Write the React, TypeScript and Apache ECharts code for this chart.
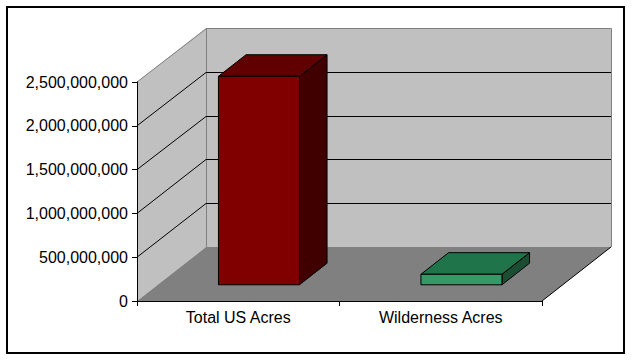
import React, { useEffect, useRef } from "react";
import * as echarts from "echarts";

const categories = ["Total US Acres", "Wilderness Acres"];
const acres = [2380000000, 120000000];
const yTickValues = [0, 500000000, 1000000000, 1500000000, 2000000000, 2500000000];
const yMin = 0;
const yMax = 2500000000;
const yInterval = 500000000;

const faceColors = [
  { front: "#800000", top: "#600000", side: "#400000" },
  { front: "#339966", top: "#20744a", side: "#1b4d33" },
];

const DX = 69;
const DY = -54;
const FRONT = 0.3;
const BACK = 0.7;
const BAR_START = 0.3;
const BAR_WIDTH = 0.4;
const WALL = "#c0c0c0";
const FLOOR = "#808080";
const EDGE = "#808080";
const FONT = "'Liberation Sans', Arial, sans-serif";

const crisp = (v: number) => Math.round(v) + 0.5;

export default function App() {
  const ref = useRef<HTMLDivElement>(null);

  useEffect(() => {
    if (!ref.current) return;
    const chart = echarts.init(ref.current, null, { renderer: "svg" });

    const renderFrame = (params: any, api: any) => {
      const cs = params.coordSys;
      const x0 = cs.x;
      const x1 = cs.x + cs.width;
      const yt = cs.y;
      const yb = cs.y + cs.height;
      const children: any[] = [
        {
          type: "rect",
          shape: { x: x0 + DX, y: yt + DY, width: cs.width, height: cs.height },
          style: { fill: WALL },
        },
        {
          type: "polygon",
          shape: { points: [[x0, yt], [x0 + DX, yt + DY], [x0 + DX, yb + DY], [x0, yb]] },
          style: { fill: WALL },
        },
        {
          type: "polygon",
          shape: { points: [[x0, yb], [x0 + DX, yb + DY], [x1 + DX, yb + DY], [x1, yb]] },
          style: { fill: FLOOR },
        },
        {
          type: "polyline",
          shape: {
            points: [
              [x0, yt],
              [crisp(x0 + DX), crisp(yt + DY)],
              [crisp(x1 + DX), crisp(yt + DY)],
              [crisp(x1 + DX), yb + DY],
            ],
          },
          style: { stroke: EDGE, lineWidth: 1, fill: "none" },
        },
        {
          type: "line",
          shape: { x1: crisp(x0 + DX), y1: yt + DY, x2: crisp(x0 + DX), y2: yb + DY },
          style: { stroke: EDGE, lineWidth: 1 },
        },
        {
          type: "line",
          shape: { x1: x1, y1: yb, x2: x1 + DX, y2: yb + DY },
          style: { stroke: "#000", lineWidth: 1 },
        },
      ];
      yTickValues.forEach((v) => {
        if (v <= yMin || v >= yMax) return;
        const y = api.coord([0, v])[1];
        const yBack = crisp(y + DY);
        children.push({
          type: "polyline",
          shape: { points: [[x0, y], [x0 + DX, yBack], [x1 + DX, yBack]] },
          style: { stroke: "#000", lineWidth: 1, fill: "none" },
        });
      });
      return { type: "group", children };
    };

    const renderBar = (params: any, api: any) => {
      const ci = api.value(0);
      const v = api.value(1);
      const base = api.coord([ci, 0]);
      const top = api.coord([ci, v]);
      const bw = api.size([1, 0])[0];
      const left = base[0] - bw / 2 + BAR_START * bw;
      const right = left + BAR_WIDTH * bw;
      const fx = FRONT * DX;
      const fy = FRONT * DY;
      const bx = BACK * DX;
      const by = BACK * DY;
      const c = faceColors[params.dataIndex % faceColors.length];
      const ty = top[1];
      const byy = base[1];
      const stroke = { stroke: "#000", lineWidth: 1 };
      return {
        type: "group",
        children: [
          {
            type: "polygon",
            shape: {
              points: [
                [right + fx, ty + fy],
                [right + bx, ty + by],
                [right + bx, byy + by],
                [right + fx, byy + fy],
              ],
            },
            style: { fill: c.side, ...stroke },
          },
          {
            type: "polygon",
            shape: {
              points: [
                [left + fx, ty + fy],
                [left + bx, ty + by],
                [right + bx, ty + by],
                [right + fx, ty + fy],
              ],
            },
            style: { fill: c.top, ...stroke },
          },
          {
            type: "rect",
            shape: { x: left + fx, y: ty + fy, width: right - left, height: byy - ty },
            style: { fill: c.front, ...stroke },
          },
        ],
      };
    };

    chart.setOption({
      animation: false,
      backgroundColor: "#fff",
      grid: { left: 137, top: 82, width: 405, height: 219, containLabel: false },
      xAxis: {
        type: "category",
        data: categories,
        boundaryGap: true,
        z: 10,
        axisLine: { show: true, lineStyle: { color: "#000", width: 1 } },
        axisTick: { show: true, interval: 0, alignWithLabel: false, length: 5, lineStyle: { color: "#000" } },
        axisLabel: { interval: 0, color: "#000", fontSize: 16, fontFamily: FONT, margin: 8 },
        splitLine: { show: false },
      },
      yAxis: {
        type: "value",
        min: yMin,
        max: yMax,
        interval: yInterval,
        z: 10,
        axisLine: { show: true, lineStyle: { color: "#000", width: 1 } },
        axisTick: { show: true, length: 5, lineStyle: { color: "#000" } },
        axisLabel: {
          color: "#000",
          fontSize: 16,
          fontFamily: FONT,
          margin: 9,
          formatter: (v: number) => v.toLocaleString("en-US"),
        },
        splitLine: { show: false },
      },
      graphic: [
        {
          type: "rect",
          shape: { x: 7, y: 7, width: 617, height: 346 },
          style: { fill: "none", stroke: "#000", lineWidth: 2 },
          z: 100,
          silent: true,
        },
      ],
      series: [
        {
          type: "custom",
          name: "frame",
          silent: true,
          clip: false,
          z: 1,
          data: [[0, 0]],
          renderItem: renderFrame,
        },
        {
          type: "custom",
          name: "Acres",
          clip: false,
          z: 3,
          data: categories.map((_, i) => [i, acres[i]]),
          renderItem: renderBar,
        },
      ],
    });

    return () => chart.dispose();
  }, []);

  return (
    <div
      ref={ref}
      style={{ position: "absolute", left: 0, top: 0, width: 633, height: 361 }}
    />
  );
}
